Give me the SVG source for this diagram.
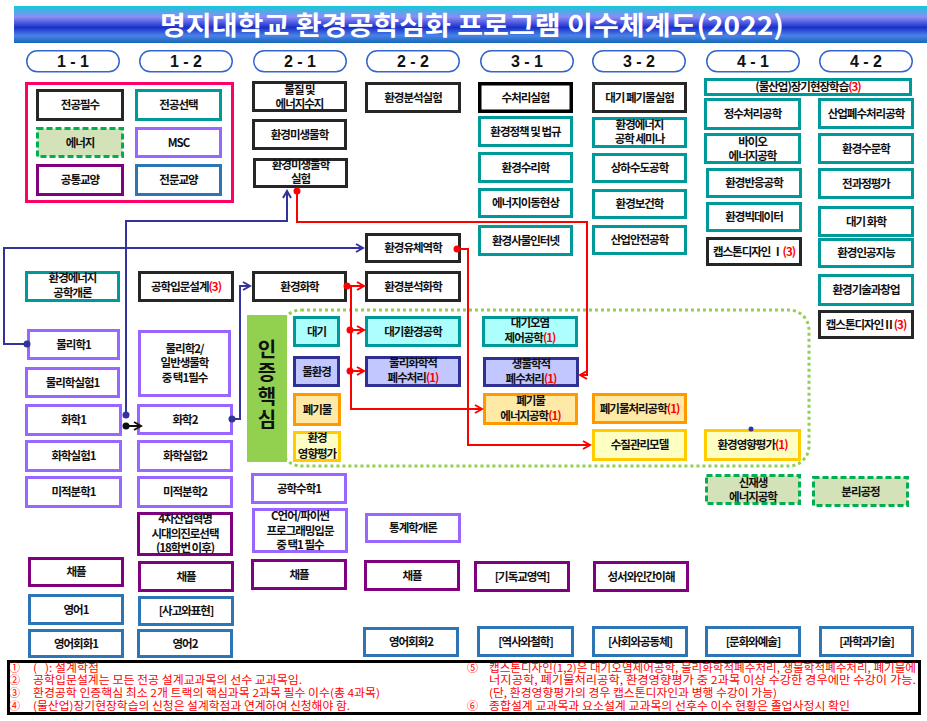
<svg xmlns="http://www.w3.org/2000/svg" width="927" height="721" viewBox="0 0 927 721">
<defs>
<linearGradient id="tg" x1="0" y1="0" x2="0" y2="1">
<stop offset="0" stop-color="#14c8d8"/>
<stop offset="0.3" stop-color="#8c8cf6"/>
<stop offset="0.58" stop-color="#1a30cc"/>
<stop offset="0.8" stop-color="#4a82e6"/>
<stop offset="1" stop-color="#1568b8"/>
</linearGradient>
<marker id="ab" markerWidth="10" markerHeight="10" refX="8" refY="5" orient="auto" markerUnits="userSpaceOnUse"><path d="M1,1 L8,5 L1,9" fill="none" stroke="#333399" stroke-width="2"/></marker>
<marker id="ar" markerWidth="10" markerHeight="10" refX="8" refY="5" orient="auto" markerUnits="userSpaceOnUse"><path d="M1,1 L8,5 L1,9" fill="none" stroke="#ff0000" stroke-width="2"/></marker>
<marker id="ak" markerWidth="10" markerHeight="10" refX="8" refY="5" orient="auto" markerUnits="userSpaceOnUse"><path d="M1,1 L8,5 L1,9" fill="none" stroke="#111" stroke-width="2"/></marker>
</defs>
<style>
.t{font-family:"Noto Sans CJK KR","Noto Sans",sans-serif;font-weight:700;font-size:11.5px;letter-spacing:-1px;text-anchor:middle;fill:#111}
.r{fill:#ff0000}
.bk{fill:#fff;stroke:#262626;stroke-width:3}
.bk2{fill:#fff;stroke:#000;stroke-width:3.5}
.tl{fill:#fff;stroke:#009999;stroke-width:3}
.ms{fill:#fff;stroke:#9966ff;stroke-width:3}
.gn{fill:#fff;stroke:#800080;stroke-width:3}
.bl{fill:#fff;stroke:#2e75b6;stroke-width:3}
.en{fill:#d3e2b8;stroke:#00b050;stroke-width:3;stroke-dasharray:6 3}
.cy{fill:#adfffd;stroke:#009999;stroke-width:3}
.nv{fill:#c2c8ff;stroke:#2e3192;stroke-width:3}
.or{fill:#ffe9a6;stroke:#ff9900;stroke-width:3}
.ye{fill:#ffffc4;stroke:#ffcc00;stroke-width:3}
.pill{fill:#fff;stroke:#3366cc;stroke-width:1.5}
.pt{font-family:"Liberation Sans",Arial,sans-serif;font-weight:700;font-size:16px;text-anchor:middle;fill:#111}
.big{font-family:"Noto Sans CJK KR","Noto Sans",sans-serif;font-weight:700;font-size:20px;text-anchor:middle;fill:#111}
.n{font-family:"Noto Sans CJK KR","Noto Sans",sans-serif;font-size:11px;fill:#ff0000}
.cb{fill:none;stroke:#333399;stroke-width:2}
.cr{fill:none;stroke:#ff0000;stroke-width:2}
.ck{fill:none;stroke:#111;stroke-width:2}
</style>
<rect width="927" height="721" fill="#fff"/>
<g id="title">
<rect x="14" y="6" width="913" height="37" fill="url(#tg)"/>
<text x="472" y="35" textLength="624" lengthAdjust="spacingAndGlyphs" style="font-family:'Noto Sans CJK KR','Noto Sans',sans-serif;font-weight:700;font-size:26px;fill:#fff;text-anchor:middle">명지대학교 환경공학심화 프로그램 이수체계도(2022)</text>
</g>
<g id="semesters">
<rect class="pill" x="26.75" y="50.75" width="92.5" height="21" rx="10.5"/><text class="pt" x="73" y="67">1 - 1</text>
<rect class="pill" x="139.75" y="50.75" width="92.5" height="21" rx="10.5"/><text class="pt" x="186" y="67">1 - 2</text>
<rect class="pill" x="253.75" y="50.75" width="92.5" height="21" rx="10.5"/><text class="pt" x="300" y="67">2 - 1</text>
<rect class="pill" x="366.75" y="50.75" width="92.5" height="21" rx="10.5"/><text class="pt" x="413" y="67">2 - 2</text>
<rect class="pill" x="480.75" y="50.75" width="92.5" height="21" rx="10.5"/><text class="pt" x="527" y="67">3 - 1</text>
<rect class="pill" x="592.75" y="50.75" width="92.5" height="21" rx="10.5"/><text class="pt" x="639" y="67">3 - 2</text>
<rect class="pill" x="706.75" y="50.75" width="92.5" height="21" rx="10.5"/><text class="pt" x="753" y="67">4 - 1</text>
<rect class="pill" x="819.75" y="50.75" width="92.5" height="21" rx="10.5"/><text class="pt" x="866" y="67">4 - 2</text>
</g>
<g id="legend">
<rect x="26.5" y="83.5" width="206" height="118" fill="none" stroke="#ff0066" stroke-width="3"/>
<rect class="bk" x="37.5" y="90.5" width="85" height="29"/><text class="t" x="80" y="109">전공필수</text>
<rect class="tl" x="136.5" y="90.5" width="84" height="29"/><text class="t" x="178.5" y="109">전공선택</text>
<rect class="en" x="37.5" y="128.5" width="85" height="28"/><text class="t" x="80" y="146.5">에너지</text>
<rect class="ms" x="136.5" y="128.5" width="84" height="28"/><text class="t" x="178.5" y="146.5">MSC</text>
<rect class="gn" x="37.5" y="165.5" width="85" height="29"/><text class="t" x="80" y="184">공통교양</text>
<rect class="bl" x="136.5" y="165.5" width="84" height="29"/><text class="t" x="178.5" y="184">전문교양</text>
</g>
<g id="core-zone">
<rect x="281" y="310" width="528" height="156" rx="20" fill="none" stroke="#92d050" stroke-width="3" stroke-dasharray="3 3"/>
</g>
<g id="n-env-energy-intro"><rect class="tl" x="26.5" y="272.5" width="92" height="28"/><text class="t"><tspan x="72.5" y="282">환경에너지</tspan><tspan x="72.5" y="297">공학개론</tspan></text></g>
<g id="n-phys1"><rect class="ms" x="28.5" y="330.5" width="90" height="28"/><text class="t" x="73.5" y="348.5">물리학1</text></g>
<g id="n-physlab1"><rect class="ms" x="26.5" y="368.5" width="92" height="28"/><text class="t" x="72.5" y="386.5">물리학실험1</text></g>
<g id="n-chem1"><rect class="ms" x="26.5" y="405.5" width="94" height="29"/><text class="t" x="73.5" y="424">화학1</text></g>
<g id="n-chemlab1"><rect class="ms" x="26.5" y="441.5" width="94" height="29"/><text class="t" x="73.5" y="460">화학실험1</text></g>
<g id="n-calc1"><rect class="ms" x="26.5" y="477.5" width="94" height="29"/><text class="t" x="73.5" y="496">미적분학1</text></g>
<g id="n-chapel1"><rect class="gn" x="29.5" y="558.5" width="93" height="27"/><text class="t" x="76" y="576">채플</text></g>
<g id="n-eng1"><rect class="bl" x="29.5" y="595.5" width="93" height="28"/><text class="t" x="76" y="613.5">영어1</text></g>
<g id="n-engconv1"><rect class="bl" x="29.5" y="630.5" width="93" height="26"/><text class="t" x="76" y="647.5">영어회화1</text></g>
<g id="n-engdesign"><rect class="bk" x="139.5" y="272.5" width="93" height="28"/><text class="t" x="186" y="290.5">공학입문설계<tspan class="r">(3)</tspan></text></g>
<g id="n-phys2"><rect class="ms" x="139.5" y="331.5" width="90" height="64"/><text class="t"><tspan x="184.5" y="353">물리학2/</tspan><tspan x="184.5" y="367">일반생물학</tspan><tspan x="184.5" y="382">중 택1필수</tspan></text></g>
<g id="n-chem2"><rect class="ms" x="138.5" y="405.5" width="93" height="28"/><text class="t" x="185" y="423.5">화학2</text></g>
<g id="n-chemlab2"><rect class="ms" x="138.5" y="441.5" width="93" height="29"/><text class="t" x="185" y="460">화학실험2</text></g>
<g id="n-calc2"><rect class="ms" x="138.5" y="477.5" width="93" height="29"/><text class="t" x="185" y="496">미적분학2</text></g>
<g id="n-4ir"><rect class="gn" x="138.5" y="513.5" width="93" height="41"/><text class="t"><tspan x="185" y="523">4차산업혁명</tspan><tspan x="185" y="537.5">시대의진로선택</tspan><tspan x="185" y="552">(18학번 이후)</tspan></text></g>
<g id="n-chapel2"><rect class="gn" x="139.5" y="562.5" width="93" height="28"/><text class="t" x="186" y="580.5">채플</text></g>
<g id="n-thinking"><rect class="bl" x="139.5" y="597.5" width="93" height="27"/><text class="t" x="186" y="615">[사고와표현]</text></g>
<g id="n-eng2"><rect class="bl" x="138.5" y="630.5" width="93" height="26"/><text class="t" x="185" y="647.5">영어2</text></g>
<g id="n-massbal"><rect class="bk" x="253.5" y="82.5" width="92" height="28"/><text class="t"><tspan x="299.5" y="94">물질 및</tspan><tspan x="299.5" y="108">에너지수지</tspan></text></g>
<g id="n-micro"><rect class="bk" x="253.5" y="120.5" width="92" height="28"/><text class="t" x="299.5" y="138.5">환경미생물학</text></g>
<g id="n-microlab"><rect class="bk" x="254.5" y="159.5" width="92" height="27"/><text class="t"><tspan x="300.5" y="169">환경미생물학</tspan><tspan x="300.5" y="183">실험</tspan></text></g>
<g id="n-envchem"><rect class="bk" x="253.5" y="272.5" width="92" height="28"/><text class="t" x="299.5" y="290.5">환경화학</text></g>
<g id="n-core"><rect x="247" y="315" width="40" height="147" fill="#92d050"/><text class="big"><tspan x="267" y="357">인</tspan><tspan x="267" y="380">증</tspan><tspan x="267" y="404">핵</tspan><tspan x="267" y="427">심</tspan></text></g>
<g id="n-air"><rect class="cy" x="294.5" y="317.5" width="44" height="28"/><text class="t" x="316.5" y="335.5">대기</text></g>
<g id="n-water"><rect class="nv" x="294.5" y="357.5" width="44" height="28"/><text class="t" x="316.5" y="375.5">물환경</text></g>
<g id="n-waste"><rect class="or" x="294.5" y="394.5" width="45" height="30"/><text class="t" x="317" y="413.5">폐기물</text></g>
<g id="n-eia"><rect class="ye" x="294.5" y="432.5" width="45" height="28"/><text class="t"><tspan x="317" y="442">환경</tspan><tspan x="317" y="457.5">영향평가</tspan></text></g>
<g id="n-engmath1"><rect class="ms" x="252.5" y="474.5" width="93" height="28"/><text class="t" x="299" y="492.5">공학수학1</text></g>
<g id="n-prog"><rect class="ms" x="253.5" y="509.5" width="93" height="42"/><text class="t"><tspan x="300" y="520">C언어/파이썬</tspan><tspan x="300" y="535">프로그래밍입문</tspan><tspan x="300" y="549">중 택1 필수</tspan></text></g>
<g id="n-chapel3"><rect class="gn" x="252.5" y="560.5" width="93" height="28"/><text class="t" x="299" y="578.5">채플</text></g>
<g id="n-analab"><rect class="bk" x="366.5" y="83.5" width="93" height="28"/><text class="t" x="413" y="101.5">환경분석실험</text></g>
<g id="n-fluid"><rect class="bk" x="366.5" y="234.5" width="93" height="27"/><text class="t" x="413" y="252">환경유체역학</text></g>
<g id="n-anachem"><rect class="bk" x="366.5" y="272.5" width="93" height="28"/><text class="t" x="413" y="290.5">환경분석화학</text></g>
<g id="n-airenv"><rect class="cy" x="366.5" y="317.5" width="93" height="28"/><text class="t" x="413" y="335.5">대기환경공학</text></g>
<g id="n-pcww"><rect class="nv" x="366.5" y="357.5" width="93" height="28"/><text class="t"><tspan x="413" y="367">물리화학적</tspan><tspan x="413" y="382">폐수처리</tspan><tspan class="r">(1)</tspan></text></g>
<g id="n-stat"><rect class="ms" x="366.5" y="514.5" width="93" height="27"/><text class="t" x="413" y="532">통계학개론</text></g>
<g id="n-chapel4"><rect class="gn" x="365.5" y="561.5" width="93" height="28"/><text class="t" x="412" y="579.5">채플</text></g>
<g id="n-engconv2"><rect class="bl" x="364.5" y="628.5" width="93" height="27"/><text class="t" x="411" y="646">영어회화2</text></g>
<g id="n-wtlab"><rect class="bk2" x="479.75" y="83.75" width="91.5" height="27.5"/><text class="t" x="525.5" y="101.5">수처리실험</text></g>
<g id="n-policy"><rect class="tl" x="479.5" y="117.5" width="92" height="28"/><text class="t" x="525.5" y="135.5">환경정책 및 법규</text></g>
<g id="n-hydraulics"><rect class="tl" x="479.5" y="153.5" width="92" height="28"/><text class="t" x="525.5" y="171.5">환경수리학</text></g>
<g id="n-transport"><rect class="tl" x="479.5" y="189.5" width="92" height="27"/><text class="t" x="525.5" y="207">에너지이동현상</text></g>
<g id="n-iot"><rect class="tl" x="479.5" y="226.5" width="92" height="28"/><text class="t" x="525.5" y="244.5">환경사물인터넷</text></g>
<g id="n-apc"><rect class="cy" x="483.5" y="317.5" width="93" height="28"/><text class="t"><tspan x="530" y="327">대기오염</tspan><tspan x="530" y="342">제어공학</tspan><tspan class="r">(1)</tspan></text></g>
<g id="n-bioww"><rect class="nv" x="484.5" y="358.5" width="93" height="27"/><text class="t"><tspan x="531" y="368">생물학적</tspan><tspan x="531" y="383">폐수처리</tspan><tspan class="r">(1)</tspan></text></g>
<g id="n-wasteenergy"><rect class="or" x="484.5" y="394.5" width="92" height="29"/><text class="t"><tspan x="530.5" y="405">폐기물</tspan><tspan x="530.5" y="420">에너지공학</tspan><tspan class="r">(1)</tspan></text></g>
<g id="n-christian"><rect class="gn" x="475.5" y="562.5" width="93" height="28"/><text class="t" x="522" y="580.5">[기독교영역]</text></g>
<g id="n-history"><rect class="bl" x="478.5" y="627.5" width="94" height="28"/><text class="t" x="525.5" y="645.5">[역사와철학]</text></g>
<g id="n-airwastelab"><rect class="bk" x="593.5" y="83.5" width="92" height="28"/><text class="t" x="639.5" y="101.5">대기 폐기물실험</text></g>
<g id="n-seminar"><rect class="tl" x="593.5" y="118.5" width="92" height="28"/><text class="t"><tspan x="639.5" y="129">환경에너지</tspan><tspan x="639.5" y="143">공학 세미나</tspan></text></g>
<g id="n-wsse"><rect class="tl" x="593.5" y="154.5" width="92" height="27"/><text class="t" x="639.5" y="172">상하수도공학</text></g>
<g id="n-health"><rect class="tl" x="593.5" y="190.5" width="92" height="27"/><text class="t" x="639.5" y="208">환경보건학</text></g>
<g id="n-safety"><rect class="tl" x="593.5" y="226.5" width="92" height="27"/><text class="t" x="639.5" y="244">산업안전공학</text></g>
<g id="n-wastetreat"><rect class="or" x="593.5" y="394.5" width="92" height="28"/><text class="t" x="639.5" y="412.5">폐기물처리공학<tspan class="r">(1)</tspan></text></g>
<g id="n-wqmodel"><rect class="ye" x="593.5" y="430.5" width="92" height="29"/><text class="t" x="639.5" y="449">수질관리모델</text></g>
<g id="n-bible"><rect class="gn" x="594.5" y="562.5" width="93" height="28"/><text class="t" x="641" y="580.5">성서와인간이해</text></g>
<g id="n-society"><rect class="bl" x="593.5" y="627.5" width="93" height="28"/><text class="t" x="640" y="645.5">[사회와공동체]</text></g>
<g id="n-intern"><rect class="tl" x="705.5" y="79.5" width="205" height="15"/><text class="t" x="808" y="91">(물산업)장기현장학습<tspan class="r">(3)</tspan></text></g>
<g id="n-wtreat"><rect class="tl" x="705.5" y="99.5" width="94" height="29"/><text class="t" x="752.5" y="118">정수처리공학</text></g>
<g id="n-bioenergy"><rect class="tl" x="705.5" y="134.5" width="94" height="28"/><text class="t"><tspan x="752.5" y="146">바이오</tspan><tspan x="752.5" y="160">에너지공학</tspan></text></g>
<g id="n-reaction"><rect class="tl" x="707.5" y="169.5" width="93" height="27"/><text class="t" x="754" y="187">환경반응공학</text></g>
<g id="n-bigdata"><rect class="tl" x="707.5" y="203.5" width="93" height="27"/><text class="t" x="754" y="221">환경빅데이터</text></g>
<g id="n-cap1"><rect class="bk" x="707.5" y="238.5" width="93" height="26"/><text class="t" x="754" y="255.5">캡스톤디자인 Ⅰ<tspan class="r">(3)</tspan></text></g>
<g id="n-eia1"><rect class="ye" x="705.5" y="430.5" width="94" height="29"/><text class="t" x="752.5" y="449">환경영향평가<tspan class="r">(1)</tspan></text></g>
<g id="n-renew"><rect class="en" x="706.5" y="475.5" width="93" height="28"/><text class="t"><tspan x="753" y="487">신재생</tspan><tspan x="753" y="501">에너지공학</tspan></text></g>
<g id="n-culture"><rect class="bl" x="706.5" y="627.5" width="93" height="28"/><text class="t" x="753" y="645.5">[문화와예술]</text></g>
<g id="n-indww"><rect class="tl" x="819.5" y="99.5" width="93" height="28"/><text class="t" x="866" y="117.5">산업폐수처리공학</text></g>
<g id="n-hydrology"><rect class="tl" x="819.5" y="134.5" width="93" height="28"/><text class="t" x="866" y="152.5">환경수문학</text></g>
<g id="n-lca"><rect class="tl" x="819.5" y="169.5" width="93" height="28"/><text class="t" x="866" y="187.5">전과정평가</text></g>
<g id="n-atmchem"><rect class="tl" x="819.5" y="207.5" width="93" height="28"/><text class="t" x="866" y="225.5">대기 화학</text></g>
<g id="n-ai"><rect class="tl" x="819.5" y="239.5" width="93" height="27"/><text class="t" x="866" y="257">환경인공지능</text></g>
<g id="n-startup"><rect class="tl" x="819.5" y="275.5" width="93" height="29"/><text class="t" x="866" y="294">환경기술과창업</text></g>
<g id="n-cap2"><rect class="bk" x="819.5" y="311.5" width="93" height="26"/><text class="t" x="866" y="328.5">캡스톤디자인Ⅱ<tspan class="r">(3)</tspan></text></g>
<g id="n-separation"><rect class="en" x="813.5" y="477.5" width="94" height="28"/><text class="t" x="860.5" y="495.5">분리공정</text></g>
<g id="n-science"><rect class="bl" x="820.5" y="627.5" width="92" height="28"/><text class="t" x="866.5" y="645.5">[과학과기술]</text></g>
<g id="connectors">
<path class="cb" d="M126,415 V221 H287 V191" marker-end="url(#ab)"/>
<circle cx="126" cy="415" r="3.5" fill="#333399"/>
<path class="cb" d="M27,344 H4 V248 H363" marker-end="url(#ab)"/>
<circle cx="27" cy="344" r="3.5" fill="#333399"/>
<path class="cb" d="M232,419 H240 V286 H250" marker-end="url(#ab)"/>
<circle cx="232" cy="419" r="3.5" fill="#333399"/>
<path class="ck" d="M126,426 H141" marker-end="url(#ak)"/>
<circle cx="126" cy="426" r="3.5" fill="#111"/>
<path class="cr" d="M297,191 V222 H587 V375 H580" marker-end="url(#ar)"/>
<circle cx="297" cy="191" r="3.5" fill="#ff0000"/>
<path class="cr" d="M347,286 H364" marker-end="url(#ar)"/>
<path class="cr" d="M351,286 V409 H482" marker-end="url(#ar)"/>
<path class="cr" d="M351,330 H364" marker-end="url(#ar)"/>
<path class="cr" d="M351,371 H364" marker-end="url(#ar)"/>
<circle cx="347" cy="286" r="3.5" fill="#ff0000"/>
<circle cx="350" cy="330" r="3.5" fill="#ff0000"/>
<circle cx="350" cy="371" r="3.5" fill="#ff0000"/>
<path class="cr" d="M457,249 H468 V445 H590" marker-end="url(#ar)"/>
<circle cx="457" cy="249" r="3.5" fill="#ff0000"/>
<circle cx="751" cy="429" r="2.5" fill="#333399"/>
</g>
<g id="notes">
<rect x="8.5" y="661.5" width="911" height="52" fill="#fff" stroke="#000" stroke-width="3"/>
<text class="n"><tspan x="9" y="672">①</tspan><tspan x="9" y="684">②</tspan><tspan x="9" y="697">③</tspan><tspan x="9" y="710">④</tspan></text>
<text class="n" xml:space="preserve"><tspan x="33" y="672" textLength="66" lengthAdjust="spacingAndGlyphs">(   ): 설계학점</tspan><tspan x="33" y="684" textLength="269" lengthAdjust="spacingAndGlyphs">공학입문설계는 모든 전공 설계교과목의 선수 교과목임.</tspan><tspan x="33" y="697" textLength="347" lengthAdjust="spacingAndGlyphs">환경공학 인증핵심 최소 2개 트랙의 핵심과목 2과목 필수 이수(총 4과목)</tspan><tspan x="33" y="710" textLength="317" lengthAdjust="spacingAndGlyphs">(물산업)장기현장학습의 신청은 설계학점과 연계하여 신청해야 함.</tspan></text>
<text class="n"><tspan x="467" y="672">⑤</tspan><tspan x="467" y="710">⑥</tspan></text>
<text class="n"><tspan x="489" y="672" textLength="427" lengthAdjust="spacingAndGlyphs">캡스톤디자인(1,2)은 대기오염제어공학, 물리화학적폐수처리, 생물학적폐수처리, 폐기물에</tspan><tspan x="489" y="684" textLength="427" lengthAdjust="spacingAndGlyphs">너지공학, 폐기물처리공학, 환경영향평가 중 2과목 이상 수강한 경우에만 수강이 가능.</tspan><tspan x="489" y="697" textLength="288" lengthAdjust="spacingAndGlyphs">(단, 환경영향평가의 경우 캡스톤디자인과 병행 수강이 가능)</tspan><tspan x="489" y="710" textLength="361" lengthAdjust="spacingAndGlyphs">종합설계 교과목과 요소설계 교과목의 선후수 이수 현황은 졸업사정시 확인</tspan></text>
</g>
</svg>
